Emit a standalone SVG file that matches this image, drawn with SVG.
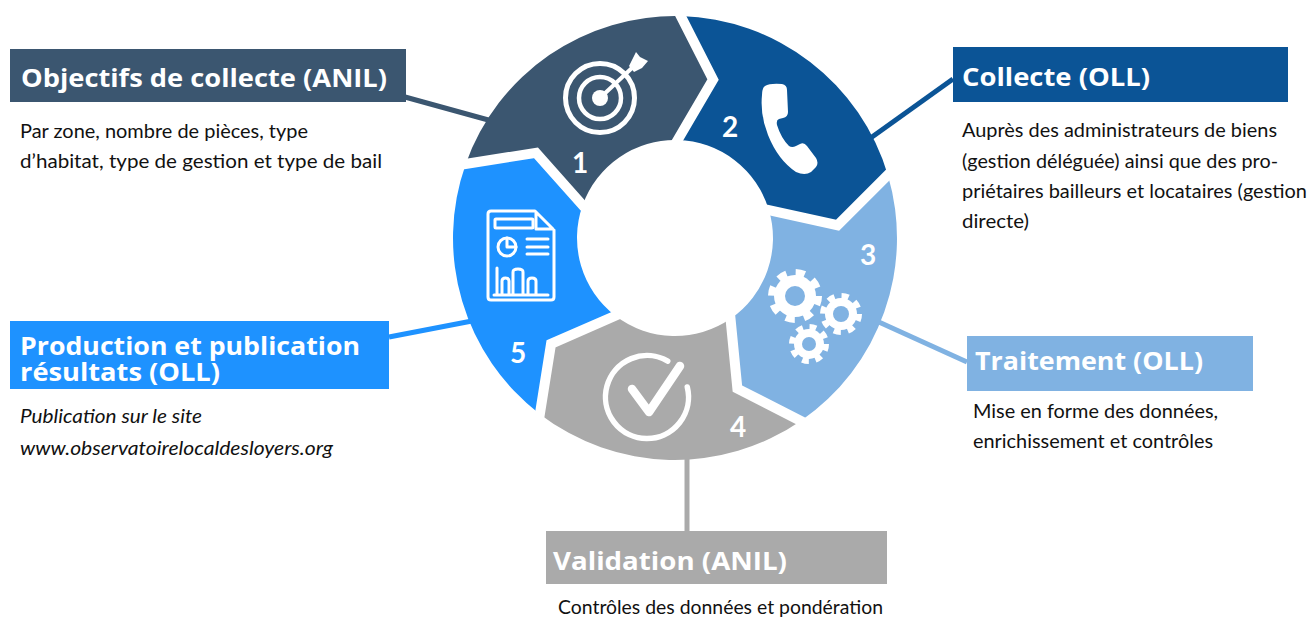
<svg xmlns="http://www.w3.org/2000/svg" width="1311" height="617" viewBox="0 0 1311 617">
<style>
.title{font-family:"Open Sans",Lato,sans-serif;font-weight:700;font-size:25px;fill:#ffffff}
.body{font-family:Lato,"Liberation Sans",sans-serif;font-size:19.5px;fill:#111111}
.it{font-style:italic}
.num{font-family:Lato,"Open Sans",sans-serif;font-weight:700;font-size:28px;fill:#ffffff;text-anchor:middle}
.ico{fill:none;stroke:#ffffff;stroke-linecap:round;stroke-linejoin:round}
.gap{fill:none;stroke:#ffffff;stroke-width:10;stroke-linejoin:miter}
.conn{fill:none;stroke-width:5}
</style>
<rect width="1311" height="617" fill="#ffffff"/>
<g id="connectors">
<line class="conn" x1="405" y1="97" x2="492" y2="121" stroke="#3B5670"/>
<line class="conn" x1="953" y1="79" x2="865" y2="142" stroke="#0B5496"/>
<line class="conn" x1="870" y1="318" x2="967" y2="362" stroke="#80B2E2"/>
<line class="conn" x1="687" y1="455" x2="687" y2="531" stroke="#AAAAAA" stroke-width="4"/>
<line class="conn" x1="389" y1="337" x2="472" y2="321" stroke="#1E92FF"/>
</g>
<g id="step1">
<path d="M465.74,163.90 A222,222 0 0 1 680.81,16.08 L713.05,79.50 L677.57,140.03 A98,98 0 0 0 582.63,205.29 L536.03,152.83 Z" fill="#3B5670"/>
<circle class="ico" cx="600" cy="98" r="34.5" stroke-width="5"/>
<circle class="ico" cx="600" cy="98" r="21" stroke-width="4.5"/>
<circle cx="600" cy="98" r="8" fill="#ffffff"/>
<line class="ico" x1="601" y1="97" x2="633" y2="67" stroke-width="4"/>
<polygon points="629,66 636,52 640,57 648,61 642,68 634,72" fill="#ffffff"/>
<text class="num" x="580" y="173">1</text>
</g>
<g id="step2">
<path d="M680.81,16.08 A222,222 0 0 1 887.85,174.95 L837.50,225.21 L768.96,210.17 A98,98 0 0 0 677.57,140.03 L713.05,79.50 Z" fill="#0B5496"/>
<path d="M765,86 Q770,83 782,84 Q787,85 787,90 L788,112 Q788,117 783,118 L779,119 Q776,120 777,125 Q781,138 789,146 Q792,148 796,146 L800,144 Q804,142 807,146 L816,158 Q819,163 816,167 L811,172 Q805,176 796,172 Q778,160 768,135 Q760,115 762,95 Q762,88 765,86 Z" fill="#ffffff"/>
<text class="num" x="730" y="137">2</text>
</g>
<g id="step3">
<path d="M887.85,174.95 A222,222 0 0 1 800.74,420.95 L737.38,388.59 L730.51,318.76 A98,98 0 0 0 768.96,210.17 L837.50,225.21 Z" fill="#80B2E2"/>
<circle cx="795" cy="296" r="23" fill="none" stroke="#ffffff" stroke-width="8" stroke-dasharray="9 9.06"/>
<circle cx="795" cy="296" r="21" fill="#ffffff"/>
<circle cx="795" cy="296" r="10" fill="#80B2E2"/>
<circle cx="841" cy="314" r="18" fill="none" stroke="#ffffff" stroke-width="6" stroke-dasharray="7.07 7.07"/>
<circle cx="841" cy="314" r="16" fill="#ffffff"/>
<circle cx="841" cy="314" r="8" fill="#80B2E2"/>
<circle cx="809" cy="344" r="17" fill="none" stroke="#ffffff" stroke-width="6" stroke-dasharray="6.68 6.68"/>
<circle cx="809" cy="344" r="15" fill="#ffffff"/>
<circle cx="809" cy="344" r="7" fill="#80B2E2"/>
<text class="num" x="868" y="265">3</text>
</g>
<g id="step4">
<path d="M800.74,420.95 A222,222 0 0 1 539.85,414.13 L551.05,343.85 L615.34,315.75 A98,98 0 0 0 730.51,318.76 L737.38,388.59 Z" fill="#AAAAAA"/>
<path class="ico" d="M667.75,361.06 A41.5,41.5 0 1 0 687.27,386.96" stroke-width="5.5"/>
<path class="ico" d="M632,389 L649,412 L680,366" stroke-width="8.5"/>
<text class="num" x="738" y="437">4</text>
</g>
<g id="step5">
<path d="M539.85,414.13 A222,222 0 0 1 465.74,163.90 L536.03,152.83 L582.63,205.29 A98,98 0 0 0 615.34,315.75 L551.05,343.85 Z" fill="#1E92FF"/>
<path class="ico" stroke-width="3" d="M491,211 H535 L554,230 V297 Q554,300 551,300 H491 Q488,300 488,297 V214 Q488,211 491,211 Z M536,212 V229 H553"/>
<rect class="ico" x="495" y="219" width="38" height="9" rx="1" stroke-width="3"/>
<circle class="ico" cx="507" cy="247" r="9" stroke-width="3"/>
<path class="ico" stroke-width="3" d="M507,247 V238 M507,247 H516 M527,239 H548 M527,247 H548 M527,254 H548 M494,295 H548 M497,294 V268 M502,294 V281 Q502,278 505.5,278 Q509,278 509,281 V294 M513,294 V272 Q513,269 518,269 Q523,269 523,272 V294 M528,294 V281 Q528,278 532,278 Q536,278 536,281 V294"/>
<text class="num" x="518" y="363">5</text>
</g>
<g id="gaps">
<polyline class="gap" points="455.86,165.46 536.03,152.83 589.27,212.77"/>
<polyline class="gap" points="676.28,7.17 713.05,79.50 672.51,148.66"/>
<polyline class="gap" points="894.93,167.89 837.50,225.21 759.19,208.03"/>
<polyline class="gap" points="809.65,425.50 737.38,388.59 729.53,308.81"/>
<polyline class="gap" points="538.28,424.01 551.05,343.85 624.50,311.75"/>
</g>
<g id="label1">
<rect x="10" y="49" width="396" height="53" fill="#3B5670"/>
<text class="title" x="21" y="87" textLength="366" lengthAdjust="spacingAndGlyphs">Objectifs de collecte (ANIL)</text>
<text class="body" x="20" y="138" textLength="288" lengthAdjust="spacingAndGlyphs">Par zone, nombre de pièces, type</text>
<text class="body" x="20" y="168" textLength="362" lengthAdjust="spacingAndGlyphs">d’habitat, type de gestion et type de bail</text>
</g>
<g id="label2">
<rect x="953" y="47" width="335" height="55" fill="#0B5496"/>
<text class="title" x="962" y="86" textLength="188" lengthAdjust="spacingAndGlyphs">Collecte (OLL)</text>
<text class="body" x="962" y="137" textLength="315" lengthAdjust="spacingAndGlyphs">Auprès des administrateurs de biens</text>
<text class="body" x="962" y="168" textLength="316" lengthAdjust="spacingAndGlyphs">(gestion déléguée) ainsi que des pro-</text>
<text class="body" x="962" y="198" textLength="345" lengthAdjust="spacingAndGlyphs">priétaires bailleurs et locataires (gestion</text>
<text class="body" x="962" y="228" textLength="67" lengthAdjust="spacingAndGlyphs">directe)</text>
</g>
<g id="label3">
<rect x="967" y="336" width="286" height="55" fill="#80B2E2"/>
<text class="title" x="975" y="370" textLength="228" lengthAdjust="spacingAndGlyphs">Traitement (OLL)</text>
<text class="body" x="973" y="418" textLength="245" lengthAdjust="spacingAndGlyphs">Mise en forme des données,</text>
<text class="body" x="973" y="448" textLength="240" lengthAdjust="spacingAndGlyphs">enrichissement et contrôles</text>
</g>
<g id="label4">
<rect x="546" y="531" width="341" height="53" fill="#AAAAAA"/>
<text class="title" x="553" y="570" textLength="234" lengthAdjust="spacingAndGlyphs">Validation (ANIL)</text>
<text class="body" x="558" y="614" textLength="325" lengthAdjust="spacingAndGlyphs">Contrôles des données et pondération</text>
</g>
<g id="label5">
<rect x="10" y="321" width="379" height="68" fill="#1E92FF"/>
<text class="title" x="20" y="355" font-size="25.5" textLength="340" lengthAdjust="spacingAndGlyphs">Production et publication</text>
<text class="title" x="20" y="381" font-size="25.5" textLength="200" lengthAdjust="spacingAndGlyphs">résultats (OLL)</text>
<text class="body it" x="20" y="423" textLength="182" lengthAdjust="spacingAndGlyphs">Publication sur le site</text>
<text class="body it" x="20" y="455" textLength="313" lengthAdjust="spacingAndGlyphs">www.observatoirelocaldesloyers.org</text>
</g>
</svg>
